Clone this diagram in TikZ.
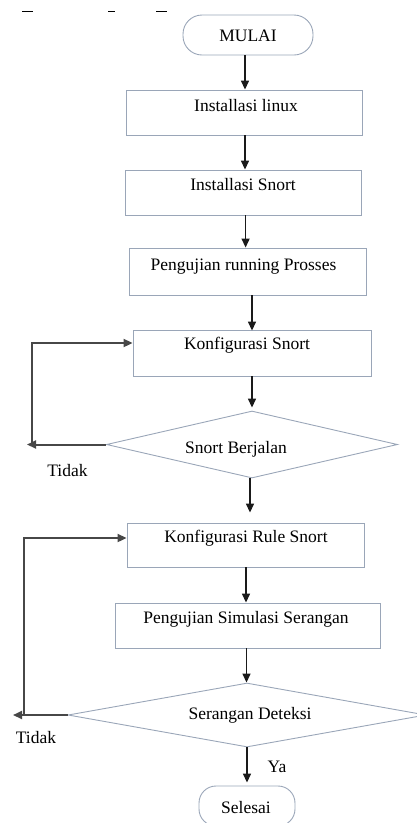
\documentclass[tikz,border=0pt]{standalone}
\usepackage{fontspec}
\setmainfont{Liberation Serif}
\usetikzlibrary{shapes.geometric,arrows.meta}
\definecolor{boxc}{HTML}{9AA6B8}
\definecolor{linec}{HTML}{1A1A1A}
\begin{document}
\begin{tikzpicture}[x=1pt,y=-1pt,
  box/.style={draw=boxc,line width=0.9pt,inner sep=0pt,anchor=center},
  term/.style={box,rounded corners=19pt},
  dia/.style={draw=boxc,line width=0.9pt,diamond,inner sep=0pt},
  txt/.style={font=\fontsize{17.5}{20}\selectfont,inner sep=0pt,anchor=base},
  arr/.style={draw=linec,line width=1.4pt,-{Triangle[length=9pt,width=8pt]}},
  loopl/.style={draw=black!72,line width=2pt}]
\useasboundingbox (0,0) rectangle (417,823);

% cut-off fragments at the top
\fill[black] (22,10.5) rectangle (33,12.2);
\fill[black] (108,10.5) rectangle (115,12.2);
\fill[black] (156,10.5) rectangle (167,12.2);

% shapes
\node[term,minimum width=130pt,minimum height=40pt] (start) at (248,35) {};
\node[box,minimum width=236pt,minimum height=45pt] (b1) at (244,112.5) {};
\node[box,minimum width=236pt,minimum height=45pt] (b2) at (243,192.5) {};
\node[box,minimum width=237pt,minimum height=47pt] (b3) at (247.5,271.5) {};
\node[box,minimum width=238pt,minimum height=46pt] (b4) at (252,353) {};
\node[dia,minimum width=291pt,minimum height=67pt] (d1) at (252,444.5) {};
\node[box,minimum width=237pt,minimum height=44pt] (b5) at (245.5,545) {};
\node[box,minimum width=265pt,minimum height=45pt] (b6) at (247.5,625.5) {};
\node[dia,minimum width=358pt,minimum height=64pt] (d2) at (247,715) {};
\node[term,rounded corners=17pt,minimum width=96pt,minimum height=40pt] (stop) at (247,806) {};

% texts
\node[txt] (tstart) at (248,41.5) {MULAI};
\node[txt] (t1) at (246,111) {Installasi linux};
\node[txt] (t2) at (243,190) {Installasi Snort};
\node[txt] (t3) at (243.5,270.5) {Pengujian running Prosses};
\node[txt] (t4) at (247,349) {Konfigurasi Snort};
\node[txt] (td1) at (236,453) {Snort Berjalan};
\node[txt] (tno1) at (67.5,476) {Tidak};
\node[txt] (t5) at (246,542) {Konfigurasi Rule Snort};
\node[txt] (t6) at (246,623) {Pengujian Simulasi Serangan};
\node[txt] (td2) at (250,719) {Serangan Deteksi};
\node[txt] (tno2) at (36,743) {Tidak};
\node[txt] (tya) at (277,772) {Ya};
\node[txt] (tstop) at (246,813) {Selesai};

% x positions of the vertical connectors
\coordinate (xa) at (245,0);
\coordinate (xb) at (245.6,0);
\coordinate (xc) at (252,0);
\coordinate (xd) at (250,0);
\coordinate (xe) at (246,0);
\coordinate (xf) at (246.5,0);
\coordinate (xg) at (247,0);

\draw[arr] (xa |- start.south) -- (xa |- b1.north);
\draw[arr] (xa |- b1.south) -- (xa |- b2.north);
\draw[arr] (xb |- b2.south) -- (xb |- b3.north);
\draw[arr] (xc |- b3.south) -- ([yshift=-1pt]xc |- b4.north);
\draw[arr] (xc |- b4.south) -- ([yshift=3pt]xc |- d1.north);
\draw[arr] (xd |- d1.south) -- ([yshift=10pt]xd |- b5.north);
\draw[arr] (xe |- b5.south) -- (xe |- b6.north);
\draw[arr] (xf |- b6.south) -- (xf |- d2.north);
\draw[arr] (xg |- d2.south) -- ([yshift=3pt]xg |- stop.north);

% loop back 1
\coordinate (l1) at (32,0);
\coordinate (l1t) at (27,0);
\coordinate (y1) at (0,343);
\draw[arr,loopl] (d1.west) -- (l1t |- d1.west);
\draw[arr,loopl] (l1 |- d1.west) -- (l1 |- y1) -- (b4.west |- y1);

% loop back 2
\coordinate (l2) at (24,0);
\coordinate (l2t) at (13,0);
\coordinate (y2) at (0,538);
\draw[arr,loopl] (d2.west) -- (l2t |- d2.west);
\draw[arr,loopl] (l2 |- d2.west) -- (l2 |- y2) -- (b5.west |- y2);
\end{tikzpicture}
\end{document}
